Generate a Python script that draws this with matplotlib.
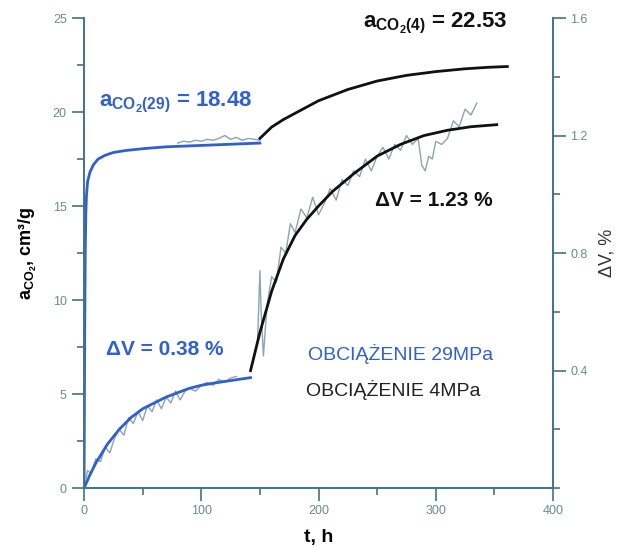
import matplotlib.pyplot as plt
from matplotlib.ticker import MultipleLocator

# adsorption, 29 MPa (fitted curve) and raw points
t_a29 = [0, 0.5, 1, 1.5, 2, 3, 5, 8, 12, 18, 25, 35, 50, 70, 90, 110, 130, 150]
a29 = [0, 7.5, 12.5, 14.6, 15.5, 16.3, 16.8, 17.2, 17.5, 17.7, 17.85, 17.95, 18.05, 18.15, 18.2, 18.25, 18.3, 18.35]
t_a29raw = [80, 85, 90, 95, 100, 105, 110, 115, 120, 125, 130, 135, 140, 145, 150]
a29raw = [18.35, 18.45, 18.4, 18.5, 18.45, 18.55, 18.5, 18.6, 18.75, 18.55, 18.65, 18.5, 18.6, 18.55, 18.5]

# adsorption, 4 MPa
t_a4 = [150, 160, 170, 185, 200, 225, 250, 275, 300, 325, 345, 361]
a4 = [18.6, 19.2, 19.6, 20.1, 20.6, 21.2, 21.65, 21.95, 22.15, 22.3, 22.38, 22.42]

# swelling dV, 29 MPa
t_v29 = [0, 5, 10, 20, 30, 40, 50, 60, 70, 80, 90, 100, 110, 120, 130, 142]
v29 = [0, 0.045, 0.085, 0.15, 0.2, 0.24, 0.27, 0.29, 0.31, 0.325, 0.34, 0.35, 0.357, 0.363, 0.369, 0.376]
t_v29raw = [0, 3, 6, 10, 14, 18, 22, 26, 30, 34, 38, 42, 46, 50, 54, 58, 62, 66, 70, 74, 78,
            82, 86, 90, 95, 100, 105, 110, 115, 120, 125, 130]
v29raw = [0, 0.06, 0.05, 0.1, 0.09, 0.14, 0.12, 0.17, 0.2, 0.18, 0.24, 0.22, 0.26, 0.23, 0.28, 0.26,
          0.3, 0.27, 0.31, 0.29, 0.33, 0.3, 0.33, 0.34, 0.33, 0.35, 0.36, 0.35, 0.37, 0.36, 0.375, 0.38]

# swelling dV, 4 MPa
t_v4 = [142, 150, 160, 170, 180, 190, 200, 212, 230, 250, 270, 290, 310, 330, 352]
v4 = [0.40, 0.53, 0.67, 0.78, 0.86, 0.915, 0.96, 1.01, 1.07, 1.13, 1.17, 1.20, 1.218, 1.23, 1.237]
t_v4raw = [145, 148, 150, 151, 153, 156, 160, 164, 168, 172, 176, 180, 185, 190, 195, 200, 205, 210,
           215, 220, 225, 230, 235, 240, 245, 250, 255, 260, 265, 270, 275, 280, 285, 288, 291, 294,
           297, 300, 305, 310, 315, 320, 325, 330, 335]
v4raw = [0.45, 0.5, 0.74, 0.6, 0.45, 0.62, 0.72, 0.7, 0.82, 0.8, 0.9, 0.87, 0.95, 0.92, 0.99, 0.93,
         0.97, 1.02, 0.98, 1.05, 1.03, 1.08, 1.06, 1.12, 1.08, 1.13, 1.16, 1.12, 1.17, 1.15, 1.2, 1.17,
         1.19, 1.1, 1.08, 1.13, 1.12, 1.18, 1.17, 1.19, 1.25, 1.23, 1.29, 1.27, 1.31]

right_ticks = [0.4, 0.8, 1.2, 1.6]

plt.rcParams['font.family'] = ['Liberation Sans', 'DejaVu Sans']
axc = '#3f7585'
blue = '#2f5fd0'
raw = '#8aa4b4'

fig = plt.figure(figsize=(6.32, 5.46), dpi=100)
ax = fig.add_axes([0.133, 0.106, 0.742, 0.861])
ax2 = ax.twinx()

ax.plot(t_a29raw, a29raw, color=raw, lw=1)
ax.plot(t_a29, a29, color=blue, lw=2)
ax.plot(t_a4, a4, color='#111111', lw=2)
ax2.plot(t_v29raw, v29raw, color=raw, lw=1)
ax2.plot(t_v29, v29, color=blue, lw=2)
ax2.plot(t_v4raw, v4raw, color=raw, lw=1)
ax2.plot(t_v4, v4, color='#111111', lw=2)

ax.set_xlim(0, 400)
ax.set_ylim(0, 25)
ax2.set_ylim(0, 1.6)
ax.xaxis.set_major_locator(MultipleLocator(100))
ax.xaxis.set_minor_locator(MultipleLocator(50))
ax.yaxis.set_major_locator(MultipleLocator(5))
ax.yaxis.set_minor_locator(MultipleLocator(2.5))
ax2.set_yticks(right_ticks)
ax2.set_yticklabels([str(v) for v in right_ticks])
ax2.yaxis.set_minor_locator(MultipleLocator(0.2))

for a in (ax, ax2):
    for s in a.spines.values():
        s.set_color(axc)
        s.set_linewidth(1.2)
    a.spines['top'].set_visible(False)
    a.tick_params(which='both', colors=axc, labelcolor='#6a8a95', labelsize=9, width=1.2)
    a.tick_params(which='major', length=9)
    a.tick_params(which='minor', length=5)

ax.set_xlabel('t, h', fontsize=14, fontweight='bold', labelpad=8)
ax.set_ylabel(r'a$_{\mathregular{CO_2}}$, cm³/g', fontsize=13, fontweight='bold', labelpad=10)
ax2.set_ylabel('ΔV, %', fontsize=13, labelpad=8, color='#333333')

ax.text(13, 20.3, r'a$_{\mathregular{CO_{2}(29)}}$ = 18.48', color=blue, fontsize=16, fontweight='bold')
ax.text(238, 24.5, r'a$_{\mathregular{CO_{2}(4)}}$ = 22.53', color='#111111', fontsize=16, fontweight='bold')
ax.text(248, 15.0, 'ΔV = 1.23 %', color='#111111', fontsize=15, fontweight='bold')
ax.text(19, 7.1, 'ΔV = 0.38 %', color=blue, fontsize=15, fontweight='bold')
ax.text(191, 6.8, 'OBCIĄŻENIE 29MPa', color=blue, fontsize=14)
ax.text(189, 4.9, 'OBCIĄŻENIE 4MPa', color='#222222', fontsize=14)

fig.savefig('out.png', dpi=100)
